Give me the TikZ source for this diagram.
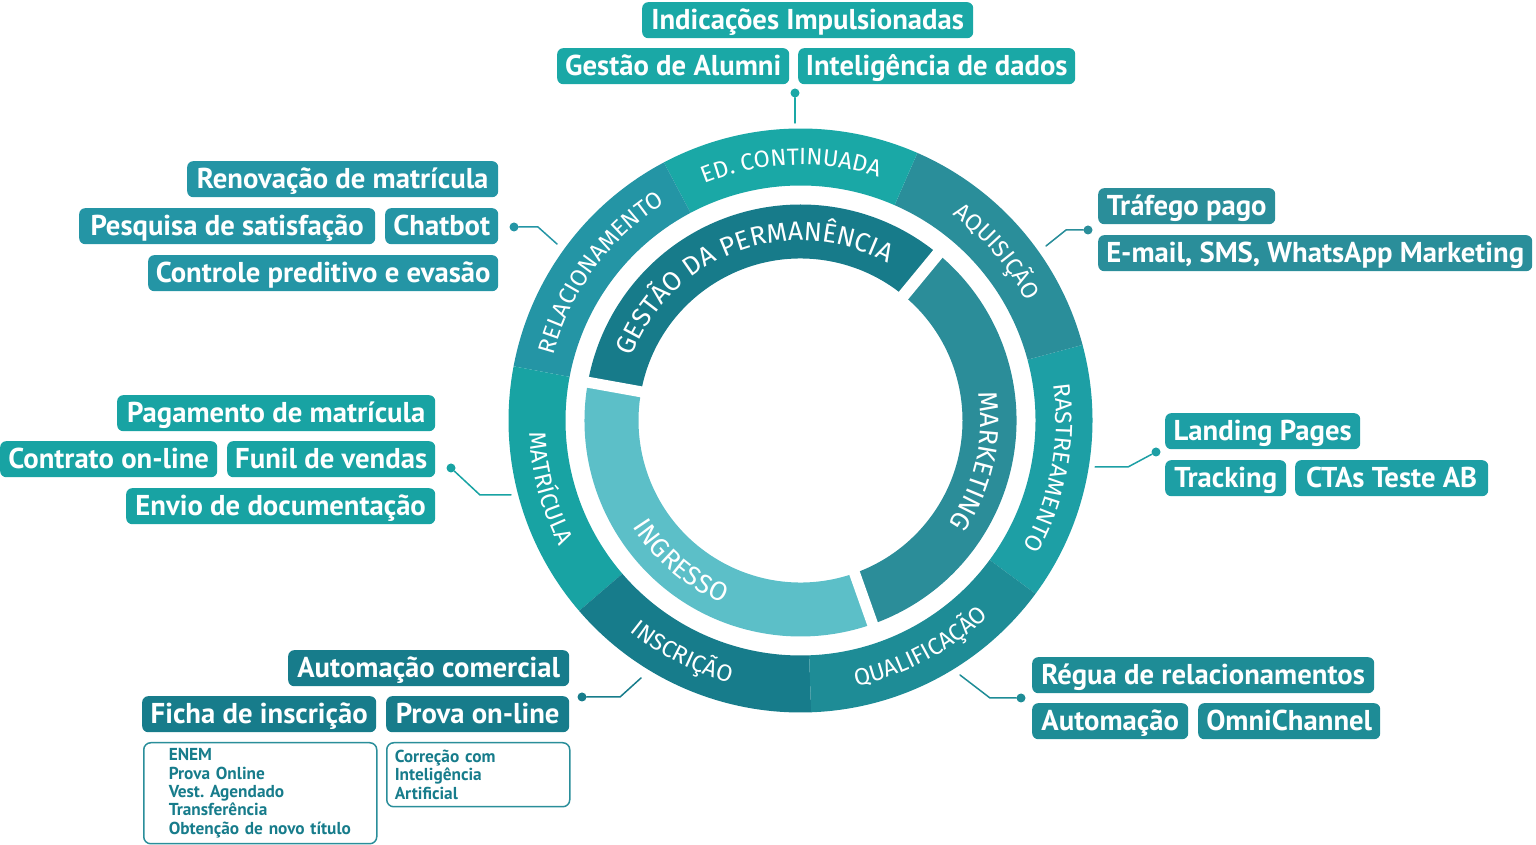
\documentclass[tikz,border=0pt]{standalone}
\usepackage{fontspec}
\usepackage{tikz}
\usetikzlibrary{decorations.text}
\newfontfamily\ringfont{Fira Sans}
\newfontfamily\boxfont{PT Sans}
\frenchspacing
\definecolor{edcol}{HTML}{1AA8A6}
\definecolor{aqcol}{HTML}{2A8E9A}
\definecolor{rastcol}{HTML}{1D9FA5}
\definecolor{qualcol}{HTML}{1E8C96}
\definecolor{insccol}{HTML}{177C8B}
\definecolor{matcol}{HTML}{18A3A3}
\definecolor{relcol}{HTML}{2495A5}
\definecolor{gestcol}{HTML}{177B8A}
\definecolor{mktcol}{HTML}{2B8D99}
\definecolor{ingcol}{HTML}{5CBFC8}
\tikzset{
  tagbox/.style={anchor=north west,rounded corners=6pt,inner sep=0pt,minimum height=36pt,text height=21pt,text depth=3pt,text=white,font=\boxfont\bfseries\fontsize{28.7}{28.7}\selectfont},
  listbox/.style={anchor=north west,draw=aqcol,line width=1.5pt,rounded corners=7pt,align=left,text=insccol,font=\boxfont\bfseries\fontsize{17.3}{18.3}\selectfont},
  link/.style={line width=1.5pt},
  dot/.style={circle,fill,inner sep=0pt,minimum size=9pt},
  outertext/.style={decorate,decoration={text along path,text align=center,text={|\ringfont\fontsize{23.5}{23.5}\selectfont\color{white}|#1}}},
  innertext/.style={decorate,decoration={text along path,text align=center,text={|\ringfont\fontsize{26.5}{26.5}\selectfont\color{white}|#1}}},
}

\begin{document}
\begin{tikzpicture}[line cap=round,line join=round,x=1pt,y=1pt]
    \useasboundingbox (0,0) rectangle (1536,845);
    \begin{scope}[shift={(800.5,424.5)}]
    \fill [rastcol] (-36.4:292) arc[start angle=-36.4,end angle=15,radius=292] -- (15:235) arc[start angle=15,end angle=-36.4,radius=235] -- cycle;
    \fill [aqcol] (15:292) arc[start angle=15,end angle=66.4,radius=292] -- (66.4:235) arc[start angle=66.4,end angle=15,radius=235] -- cycle;
    \fill [edcol] (66.4:292) arc[start angle=66.4,end angle=117.9,radius=292] -- (117.9:235) arc[start angle=117.9,end angle=66.4,radius=235] -- cycle;
    \fill [relcol] (117.9:292) arc[start angle=117.9,end angle=169.3,radius=292] -- (169.3:235) arc[start angle=169.3,end angle=117.9,radius=235] -- cycle;
    \fill [matcol] (169.3:292) arc[start angle=169.3,end angle=220.7,radius=292] -- (220.7:235) arc[start angle=220.7,end angle=169.3,radius=235] -- cycle;
    \fill [insccol] (220.7:292) arc[start angle=220.7,end angle=272.1,radius=292] -- (272.1:235) arc[start angle=272.1,end angle=220.7,radius=235] -- cycle;
    \fill [qualcol] (272.1:292) arc[start angle=272.1,end angle=323.6,radius=292] -- (323.6:235) arc[start angle=323.6,end angle=272.1,radius=235] -- cycle;
    \fill [gestcol] (50.5:216) arc[start angle=50.5,end angle=169.8,radius=216] -- (169.8:162) arc[start angle=169.8,end angle=50.5,radius=162] -- cycle;
    \fill [ingcol] (169.8:216) arc[start angle=169.8,end angle=289.5,radius=216] -- (289.5:162) arc[start angle=289.5,end angle=169.8,radius=162] -- cycle;
    \fill [mktcol] (-70.5:216) arc[start angle=-70.5,end angle=50.5,radius=216] -- (50.5:162) arc[start angle=50.5,end angle=-70.5,radius=162] -- cycle;
    \draw [white,line width=12pt,line cap=butt] (50.5:150) -- (50.5:228);
    \draw [white,line width=11pt,line cap=butt] (169.8:150) -- (169.8:228);
    \draw [white,line width=11pt,line cap=butt] (289.5:150) -- (289.5:228);
    \path [outertext=ED. CONTINUADA] (117.9:255.5) arc[start angle=117.9,end angle=66.4,radius=255.5];
    \path [outertext=AQUISIÇÃO] (66.4:255.5) arc[start angle=66.4,end angle=15,radius=255.5];
    \path [outertext=RASTREAMENTO] (15:255.5) arc[start angle=15,end angle=-36.4,radius=255.5];
    \path [outertext=RELACIONAMENTO] (169.3:255.5) arc[start angle=169.3,end angle=117.9,radius=255.5];
    \path [outertext=MATRÍCULA] (169.3:271.5) arc[start angle=169.3,end angle=220.7,radius=271.5];
    \path [outertext=INSCRIÇÃO] (220.7:271.5) arc[start angle=220.7,end angle=265.3,radius=271.5];
    \path [outertext=QUALIFICAÇÃO] (272.1:271.5) arc[start angle=272.1,end angle=323.6,radius=271.5];
    \path [innertext=GESTÃO DA PERMANÊNCIA] (169.8:180) arc[start angle=169.8,end angle=50.5,radius=180];
    \path [innertext=MARKETING] (43:180) arc[start angle=43,end angle=-69,radius=180];
    \path [innertext=INGRESSO] (169.8:198.5) arc[start angle=169.8,end angle=289.5,radius=198.5];
    \end{scope}

    \node [tagbox,fill=edcol,minimum width=331pt] (indic) at (642,843) {Indicações Impulsionadas};
    \node [tagbox,fill=edcol,minimum width=232pt] (alumni) at (557,797) {Gestão de Alumni};
    \node [tagbox,fill=edcol,minimum width=277pt] (dados) at (798,797) {Inteligência de dados};
    \node [tagbox,fill=relcol,minimum width=311pt] (renov) at (187,684) {Renovação de matrícula};
    \node [tagbox,fill=relcol,minimum width=296pt] (pesq) at (79,637) {Pesquisa de satisfação};
    \node [tagbox,fill=relcol,minimum width=113pt] (chatbot) at (385,637) {Chatbot};
    \node [tagbox,fill=relcol,minimum width=350pt] (evasao) at (148,590) {Controle preditivo e evasão};
    \node [tagbox,fill=aqcol,minimum width=177pt] (trafego) at (1098,657) {Tráfego pago};
    \node [tagbox,fill=aqcol,minimum width=434pt] (email) at (1098,610) {E-mail, SMS, WhatsApp Marketing};
    \node [tagbox,fill=rastcol,minimum width=195pt] (landing) at (1165,432) {Landing Pages};
    \node [tagbox,fill=rastcol,minimum width=121pt] (tracking) at (1165,385) {Tracking};
    \node [tagbox,fill=rastcol,minimum width=193pt] (ctas) at (1295,385) {CTAs Teste AB};
    \node [tagbox,fill=matcol,minimum width=318pt] (pagam) at (117,450) {Pagamento de matrícula};
    \node [tagbox,fill=matcol,minimum width=217pt] (contrato) at (0,404) {Contrato on-line};
    \node [tagbox,fill=matcol,minimum width=208pt] (funil) at (227,404) {Funil de vendas};
    \node [tagbox,fill=matcol,minimum width=309pt] (envio) at (126,357) {Envio de documentação};
    \node [tagbox,fill=insccol,minimum width=281pt] (autocom) at (288,195) {Automação comercial};
    \node [tagbox,fill=insccol,minimum width=234pt] (ficha) at (142,149) {Ficha de inscrição};
    \node [tagbox,fill=insccol,minimum width=183pt] (prova) at (386,149) {Prova on-line};
    \node [listbox,inner xsep=25pt,text width=183pt,minimum height=101pt] (fichalist) at (143,103) {ENEM\\Prova Online\\Vest. Agendado\\Transferência\\Obtenção de novo título};
    \node [listbox,inner xsep=8pt,text width=167pt,minimum height=64pt] (provalist) at (386,103) {Correção com\\Inteligência\\Artificial};
    \node [tagbox,fill=qualcol,minimum width=342pt] (regua) at (1032,188) {Régua de relacionamentos};
    \node [tagbox,fill=qualcol,minimum width=156pt] (autom) at (1032,142) {Automação};
    \node [tagbox,fill=qualcol,minimum width=182pt] (omni) at (1198,142) {OmniChannel};

    \node [dot,edcol] (edDot) at (795,752) {};
    \coordinate (edEnd) at (795,722);
    \draw [link,edcol] (edDot) -- (edEnd);
    \node [dot,relcol] (relDot) at (514,618) {};
    \coordinate (relBend) at (538,618);
    \coordinate (relEnd) at (557,601);
    \draw [link,relcol] (relDot) -- (relBend) -- (relEnd);
    \node [dot,aqcol] (aqDot) at (1088,615) {};
    \coordinate (aqBend) at (1066,615);
    \coordinate (aqEnd) at (1046,599);
    \draw [link,aqcol] (aqDot) -- (aqBend) -- (aqEnd);
    \node [dot,rastcol] (rastDot) at (1156,393) {};
    \coordinate (rastBend) at (1128,378);
    \coordinate (rastEnd) at (1095,378);
    \draw [link,rastcol] (rastDot) -- (rastBend) -- (rastEnd);
    \node [dot,matcol] (matDot) at (451,377) {};
    \coordinate (matBend) at (480,350);
    \coordinate (matEnd) at (511,350);
    \draw [link,matcol] (matDot) -- (matBend) -- (matEnd);
    \node [dot,insccol] (inscDot) at (582,148) {};
    \coordinate (inscBend) at (620,148);
    \coordinate (inscEnd) at (641,167);
    \draw [link,insccol] (inscDot) -- (inscBend) -- (inscEnd);
    \node [dot,qualcol] (qualDot) at (1021,147) {};
    \coordinate (qualBend) at (990,147);
    \coordinate (qualEnd) at (960,170);
    \draw [link,qualcol] (qualDot) -- (qualBend) -- (qualEnd);
\end{tikzpicture}
\end{document}
